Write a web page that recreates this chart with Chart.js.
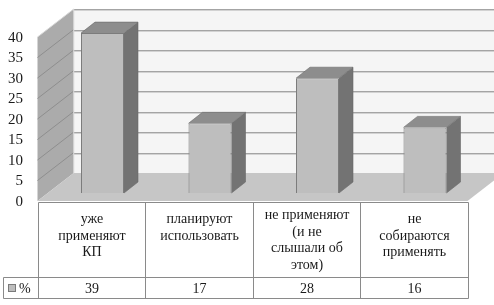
<!DOCTYPE html>
<html>
<head>
<meta charset="utf-8">
<script src="https://cdn.jsdelivr.net/npm/chart.js@4/dist/chart.umd.min.js"></script>
<style>
    body { margin: 0; background: #fff; }
    canvas { display: block; }
</style>
</head>
<body>
<canvas id="myChart" width="494" height="305"></canvas>
<script>
// data
const categories = [
    ['уже', 'применяют', 'КП'],
    ['планируют', 'использовать'],
    ['не применяют', '(и не', 'слышали об', 'этом)'],
    ['не', 'собираются', 'применять']
]
const percentValues = [39, 17, 28, 16]
const seriesName = '%'
const yTicks = [0, 5, 10, 15, 20, 25, 30, 35, 40]

// fake 3d: the bars sit on a plane between the front and the back of the box
const frontShift = { x: -11.25, y: 8 }
const backShift = { x: 25, y: -20 }
const barDepth = { x: 14, y: -11 }
const serif = '"Liberation Serif", "Times New Roman", serif'

function line(ctx, x1, y1, x2, y2) {
    ctx.beginPath()
    ctx.moveTo(x1, y1)
    ctx.lineTo(x2, y2)
    ctx.stroke()
}

function poly(ctx, pts) {
    ctx.beginPath()
    ctx.moveTo(pts[0][0], pts[0][1])
    for (let i = 1; i < pts.length; i++) ctx.lineTo(pts[i][0], pts[i][1])
    ctx.closePath()
    ctx.fill()
}

const box3d = {
    id: 'box3d',
    beforeDatasetsDraw(chart) {
        const ctx = chart.ctx
        const area = chart.chartArea
        const yScale = chart.scales.y
        const top = yScale.getPixelForValue(yTicks[yTicks.length - 1])
        const zero = yScale.getPixelForValue(0)
        const fl = area.left + frontShift.x
        const fr = area.right + frontShift.x
        const bl = area.left + backShift.x
        const br = area.right + backShift.x
        ctx.save()

        // back wall
        ctx.fillStyle = '#f5f5f5'
        ctx.fillRect(bl, top + backShift.y, chart.width - bl, zero - top)

        // left wall
        ctx.fillStyle = '#ababab'
        poly(ctx, [[fl, top + frontShift.y], [bl, top + backShift.y], [bl, zero + backShift.y], [fl, zero + frontShift.y]])

        // floor
        ctx.fillStyle = '#c6c6c6'
        poly(ctx, [[fl, zero + frontShift.y], [fr, zero + frontShift.y], [br, zero + backShift.y], [bl, zero + backShift.y]])

        // grid lines on the back and left walls
        ctx.lineWidth = 1
        yTicks.forEach(v => {
            if (v == 0) return
            const py = yScale.getPixelForValue(v)
            const yb = Math.round(py + backShift.y) + 0.5
            ctx.strokeStyle = '#a4a4a4'
            line(ctx, bl, yb, chart.width, yb)
            ctx.strokeStyle = '#d2d2d2'
            line(ctx, bl, yb + 1, chart.width, yb + 1)
            ctx.strokeStyle = v == yTicks[yTicks.length - 1] ? '#d8d8d8' : '#8e8e8e'
            line(ctx, fl, py + frontShift.y, bl, py + backShift.y)
        })
        ctx.strokeStyle = '#d8d8d8'
        line(ctx, bl, top + backShift.y, bl, zero + backShift.y)
        ctx.restore()
    },
    afterDatasetsDraw(chart) {
        const ctx = chart.ctx
        const meta = chart.getDatasetMeta(0)
        ctx.save()
        meta.data.forEach(bar => {
            const p = bar.getProps(['x', 'y', 'base', 'width'], true)
            const l = p.x - p.width / 2
            const r = p.x + p.width / 2
            ctx.fillStyle = '#737373'
            poly(ctx, [[r, p.y], [r + barDepth.x, p.y + barDepth.y], [r + barDepth.x, p.base + barDepth.y], [r, p.base]])
            ctx.fillStyle = '#8d8d8d'
            poly(ctx, [[l, p.y], [l + barDepth.x, p.y + barDepth.y], [r + barDepth.x, p.y + barDepth.y], [r, p.y]])
            ctx.strokeStyle = '#6a6a6a'
            ctx.lineWidth = 0.6
            ctx.beginPath()
            ctx.moveTo(l, p.y)
            ctx.lineTo(l + barDepth.x, p.y + barDepth.y)
            ctx.lineTo(r + barDepth.x, p.y + barDepth.y)
            ctx.lineTo(r + barDepth.x, p.base + barDepth.y)
            ctx.lineTo(r, p.base)
            ctx.moveTo(r, p.y)
            ctx.lineTo(r + barDepth.x, p.y + barDepth.y)
            ctx.stroke()
        })
        ctx.restore()
    },
    afterDraw(chart) {
        const ctx = chart.ctx
        const yScale = chart.scales.y
        const xScale = chart.scales.x
        ctx.save()

        // y tick labels along the front edge
        ctx.fillStyle = '#1a1a1a'
        ctx.font = '15px ' + serif
        ctx.textAlign = 'right'
        ctx.textBaseline = 'middle'
        yTicks.forEach(v => {
            ctx.fillText(String(v), 23, yScale.getPixelForValue(v) + frontShift.y + 1)
        })

        // data table under the floor
        const step = xScale.getPixelForValue(1) - xScale.getPixelForValue(0)
        const edges = []
        for (let i = 0; i <= categories.length; i++) {
            edges.push(Math.round(xScale.getPixelForValue(0) - step / 2 + i * step + frontShift.x) + 0.5)
        }
        const tTop = Math.round(yScale.getPixelForValue(0) + frontShift.y) + 1.5
        const headH = 75
        const rowH = 21
        const keyLeft = 3.5
        const tLeft = edges[0]
        const tRight = edges[edges.length - 1]

        ctx.fillStyle = '#fff'
        ctx.fillRect(tLeft, tTop, tRight - tLeft, headH + rowH)
        ctx.fillRect(keyLeft, tTop + headH, tLeft - keyLeft, rowH)

        ctx.strokeStyle = '#8a8a8a'
        ctx.lineWidth = 1
        line(ctx, tLeft, tTop, tRight, tTop)
        line(ctx, keyLeft, tTop + headH, tRight, tTop + headH)
        line(ctx, keyLeft, tTop + headH + rowH, tRight, tTop + headH + rowH)
        line(ctx, keyLeft, tTop + headH, keyLeft, tTop + headH + rowH)
        edges.forEach(x => line(ctx, x, tTop, x, tTop + headH + rowH))

        ctx.fillStyle = '#1a1a1a'
        ctx.font = '14px ' + serif
        ctx.textAlign = 'center'
        const lineH = 16.5
        categories.forEach((lines, i) => {
            const cx = (edges[i] + edges[i + 1]) / 2
            const y0 = Math.min(tTop + 17, tTop + headH - 4 - (lines.length - 0.5) * lineH)
            lines.forEach((t, j) => ctx.fillText(t, cx, y0 + j * lineH))
            ctx.fillText(String(percentValues[i]), cx, tTop + headH + rowH / 2 + 1)
        })

        // legend key in the row header
        const ky = tTop + headH + rowH / 2
        ctx.fillStyle = '#bdbdbd'
        ctx.fillRect(8, ky - 4, 8, 8)
        ctx.strokeStyle = '#7a7a7a'
        ctx.strokeRect(8.5, ky - 3.5, 7, 7)
        ctx.fillStyle = '#1a1a1a'
        ctx.textAlign = 'left'
        ctx.fillText(seriesName, 19, ky + 1)
        ctx.restore()
    }
}

new Chart("myChart", {
    type: "bar",
    data: {
        labels: categories,
        datasets: [{
            label: seriesName,
            data: percentValues,
            backgroundColor: '#bebebe',
            borderColor: '#7c7c7c',
            borderWidth: 1,
            barPercentage: 0.4,
            categoryPercentage: 1
        }]
    },
    options: {
        responsive: false,
        animation: false,
        devicePixelRatio: 1,
        layout: { padding: { left: 48.75, right: 15.25, top: 29, bottom: 112 } },
        plugins: {
            legend: { display: false },
            tooltip: { enabled: false }
        },
        scales: {
            x: { display: false },
            y: { display: false, min: 0, max: 40, ticks: { stepSize: 5 } }
        }
    },
    plugins: [box3d]
})
</script>
</body>
</html>
